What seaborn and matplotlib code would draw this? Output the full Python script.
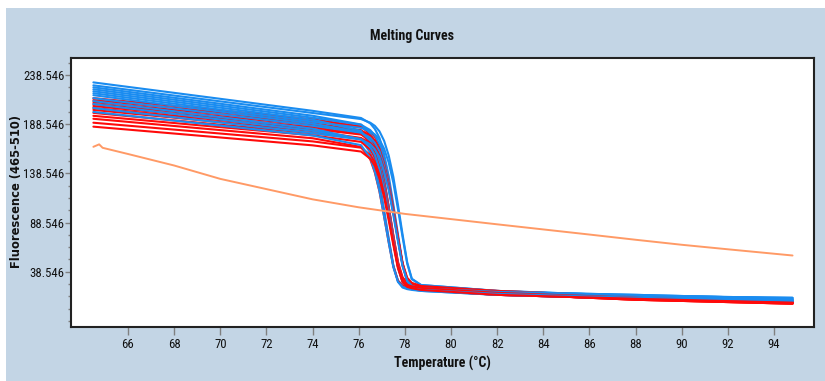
import matplotlib
matplotlib.use("Agg")
import numpy as np
import pandas as pd
import matplotlib.pyplot as plt
import seaborn as sns
from matplotlib.patches import Rectangle
from matplotlib.ticker import FixedLocator
from matplotlib import font_manager as fm

# ---------------- data ----------------
temps = [64.5, 70, 74, 76.1, 76.5, 76.7, 76.9, 77.1, 77.3, 77.5, 77.7, 77.9,
         78.1, 78.3, 78.7, 82, 88, 94.8]

blue_01 = [231, 214.3, 202.1, 194.8, 189.3, 183.6, 174.5, 158, 135.9, 107, 76.4, 47.5, 30.5, 24.6, 21, 17, 13, 10]
blue_02 = [228, 211.7, 199.9, 193.7, 190.0, 186.8, 181.2, 171.6, 156.6, 134.9, 106.5, 76.4, 48.1, 31.4, 25, 19, 14, 12]
blue_03 = [226, 209.3, 197.1, 188.2, 179.4, 170.4, 154.8, 132.2, 104, 74.1, 45.9, 29.3, 23.5, 21.8, 20, 16, 12, 9]
blue_04 = [224, 207.3, 195.1, 187.9, 182.5, 177.0, 168.2, 152.4, 131.2, 103.5, 74.2, 46.5, 30.2, 24.4, 22, 18, 15, 11]
blue_05 = [222, 205.3, 193.1, 181.7, 167.3, 151.9, 130.1, 101.5, 72.2, 44.5, 28.2, 22.4, 20.8, 20, 19, 15, 11, 8]
blue_06 = [220, 203.3, 191.1, 184.7, 181.1, 178.1, 172.7, 163.6, 149.4, 128.9, 102, 73.6, 46.7, 30.9, 25, 19, 14, 12]
blue_07 = [218, 201.3, 189.1, 180.3, 171.9, 163.4, 148.6, 127.2, 100.5, 72.2, 45.6, 29.9, 24.4, 22.8, 21, 17, 13, 10]
blue_08 = [215, 198.7, 186.9, 179.9, 174.7, 169.4, 161.0, 145.8, 125.5, 99, 70.9, 44.4, 28.8, 23.3, 20, 16, 12, 9]
blue_09 = [212, 195.7, 183.9, 173.0, 159.5, 145.1, 124.7, 98, 70.6, 44.8, 29.6, 24.3, 22.8, 22, 21.5, 18, 15, 11]
blue_10 = [209, 193.2, 181.7, 173.4, 165.2, 157.0, 142.6, 121.8, 96, 68.6, 42.8, 27.6, 22.3, 20.8, 19, 15, 11, 8]
blue_11 = [205, 190.2, 179.4, 172.9, 168.0, 162.9, 154.9, 140.4, 121.2, 96, 69.4, 44.2, 29.4, 24.2, 21, 17, 13, 10]
blue_12 = [201, 187.1, 177.0, 167.2, 154.1, 140.1, 120.4, 94.5, 68, 43.1, 28.4, 23.2, 21.7, 21, 20, 16, 12, 9]

red_01 = [215, 202.6, 193.5, 186.3, 178.0, 169.4, 154.2, 132.2, 104.5, 75.2, 47.5, 31.2, 25.4, 23.8, 22, 17, 12, 7]
red_02 = [213, 200.6, 191.5, 186.0, 181.0, 175.6, 167.0, 151.4, 130.2, 102.5, 73.2, 45.5, 29.2, 23.4, 20, 15, 11, 7]
red_03 = [211, 198.6, 189.5, 182.4, 174.4, 166.1, 151.4, 130.2, 103.5, 75.2, 48.6, 32.9, 27.4, 25.8, 24, 19, 13, 8]
red_04 = [209, 196.6, 187.5, 182.0, 177.1, 171.9, 163.5, 148.4, 127.9, 101, 72.6, 45.7, 29.9, 24.4, 21, 16, 10, 6]
red_05 = [207, 194.6, 185.5, 178.4, 170.4, 162.1, 147.4, 126.2, 99.5, 71.2, 44.6, 28.9, 23.4, 21.8, 20, 15, 11, 7]
red_06 = [205, 192.6, 183.5, 178.0, 173.3, 168.2, 160.1, 145.4, 125.5, 99.5, 72, 46, 30.7, 25.3, 22, 17, 12, 7]
red_07 = [203, 190.6, 181.5, 174.5, 166.7, 158.6, 144.4, 123.8, 98, 70.6, 44.8, 29.6, 24.3, 22.8, 21, 16, 10, 6]
red_08 = [200, 188.0, 179.3, 174.1, 169.4, 164.6, 156.7, 142.6, 123.5, 98.5, 72, 47, 32.4, 27.2, 24, 19, 13, 8]
red_09 = [197, 185.5, 177.2, 170.5, 162.8, 154.9, 141, 120.8, 95.5, 68.7, 43.4, 28.5, 23.2, 21.7, 20, 15, 11, 7]
red_10 = [194, 182.5, 174.2, 165.4, 152.7, 139.2, 119.8, 94.5, 68.4, 43.8, 29.3, 24.2, 22.7, 22, 21, 16, 10, 6]
red_11 = [190, 179.0, 171.0, 164.6, 157.3, 149.8, 136.6, 117.5, 93.5, 68.1, 44.2, 30.1, 25.1, 23.7, 22, 17, 12, 7]
red_12 = [186, 175.0, 167.0, 160.7, 153.4, 146.0, 133, 114.1, 90.5, 65.5, 41.9, 28, 23.1, 21.7, 20, 15, 11, 7]

orange_temps = [64.5, 64.75, 64.9, 66, 68, 70, 72, 74, 76, 78, 80, 82, 84, 86, 88, 90, 92, 94.8]
orange_vals = [165.5, 168, 164.5, 158.2, 146.5, 132.9, 122.5, 112.1, 104, 97.3, 92, 86.7, 81.5, 76.3, 71, 65.9, 61.3, 55]

x_ticks = [66, 68, 70, 72, 74, 76, 78, 80, 82, 84, 86, 88, 90, 92, 94]
y_ticks = [38.546, 88.546, 138.546, 188.546, 238.546]
y_tick_labels = ["38.546", "88.546", "138.546", "188.546", "238.546"]

title_text = "Melting Curves"
x_label = "Temperature (\u00b0C)"
y_label = "Fluorescence (465-510)"

# ---------------- style ----------------
BLUE = "#1a8cf0"
RED = "#ff0a0a"
ORANGE = "#ff9a66"
PANEL = "#c3d5e5"

sns.set_style("white")

# pick a narrow family if one is installed
installed = {f.name for f in fm.fontManager.ttflist}
narrow = None
for cand in ["Liberation Sans Narrow", "DejaVu Sans Condensed", "Roboto Condensed",
             "Open Sans Condensed", "Noto Sans Condensed", "Arial Narrow"]:
    if cand in installed:
        narrow = cand
        break
if narrow is None:
    narrow = "Liberation Sans"
plt.rcParams["font.family"] = [narrow, "DejaVu Sans"]
tick_size = 9.2 if narrow != "Liberation Sans" else 8.2

blues = [blue_01, blue_02, blue_03, blue_04, blue_05, blue_06,
         blue_07, blue_08, blue_09, blue_10, blue_11, blue_12]
reds = [red_01, red_02, red_03, red_04, red_05, red_06,
        red_07, red_08, red_09, red_10, red_11, red_12]

rows = []
order = []
palette = {}
for i, (b, r) in enumerate(zip(blues, reds)):
    for name, vals, col in ((f"b{i}", b, BLUE), (f"r{i}", r, RED)):
        order.append(name)
        palette[name] = col
        for t, v in zip(temps, vals):
            rows.append((name, t, v))
df = pd.DataFrame(rows, columns=["curve", "temp", "fluor"])
df_or = pd.DataFrame({"temp": orange_temps, "fluor": orange_vals})

fig = plt.figure(figsize=(8.25, 3.81), dpi=100, facecolor="white")
fig.add_artist(Rectangle((6 / 825, 0), 1, (381 - 8) / 381,
                         transform=fig.transFigure, facecolor=PANEL,
                         edgecolor="none", zorder=-10))
ax = fig.add_axes([71 / 825, 1 - 327 / 381, (814 - 71) / 825, (327 - 58) / 381])
ax.set_facecolor("white")

sns.lineplot(data=df, x="temp", y="fluor", hue="curve", hue_order=order,
             palette=palette, estimator=None, sort=False, legend=False,
             linewidth=1.5, ax=ax)
sns.lineplot(data=df_or, x="temp", y="fluor", color=ORANGE, estimator=None,
             sort=False, linewidth=1.4, ax=ax)

ax.set_xlim(63.53, 95.73)
ax.set_ylim(-17.7, 255.8)
ax.set_xticks(x_ticks)
ax.set_xticklabels([str(t) for t in x_ticks])
ax.set_yticks(y_ticks)
ax.set_yticklabels(y_tick_labels)
ax.yaxis.set_minor_locator(FixedLocator(np.arange(38.546 - 50, 256, 12.5)))
ax.set_xlabel("")
ax.set_ylabel("")

ax.tick_params(axis="x", which="major", direction="out", length=6, width=1,
               color="#808080", pad=2, labelsize=tick_size, labelcolor="#111111",
               bottom=True)
ax.tick_params(axis="y", which="major", direction="out", length=4, width=1,
               color="#808080", pad=0.5, labelsize=tick_size, labelcolor="#111111",
               left=True)
ax.tick_params(axis="y", which="minor", direction="out", length=2.5, width=1,
               color="#808080", left=True)
for s in ax.spines.values():
    s.set_color("#222222")
    s.set_linewidth(1.5)
    s.set_visible(True)

fig.text(0.5, 1 - 36 / 381, title_text, ha="center", va="center",
         fontsize=10, fontweight="bold", color="#111111")
fig.text(442 / 825, 1 - 363 / 381, x_label, ha="center", va="center",
         fontsize=10, fontweight="bold", color="#111111")
fig.text(17 / 825, 1 - 192 / 381, y_label, ha="center", va="center",
         rotation=90, fontsize=8.3, fontweight="bold", color="#111111",
         family=["DejaVu Sans"])

fig.savefig("out.png", dpi=100, facecolor="white")
